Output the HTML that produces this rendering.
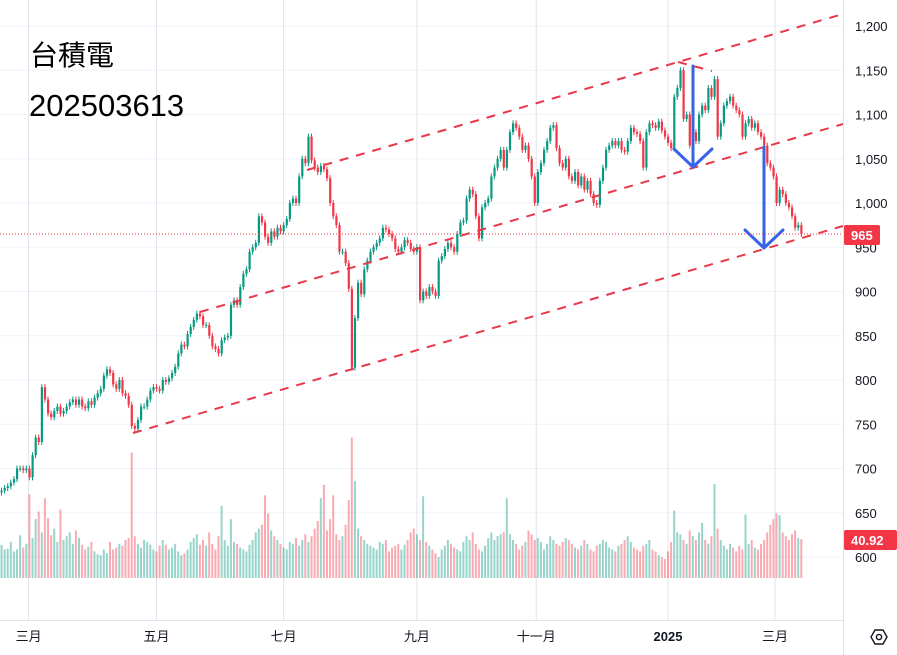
<!DOCTYPE html>
<html><head><meta charset="utf-8">
<style>
html,body{margin:0;padding:0;background:#fff;}
body{width:897px;height:655px;overflow:hidden;position:relative;font-family:"Liberation Sans","Noto Sans CJK TC",sans-serif;}
svg{position:absolute;left:0;top:0;}
</style></head>
<body>
<svg id="chart" width="897" height="655" xmlns="http://www.w3.org/2000/svg"></svg>
<script>
// ---- data ----
const yTicks = [1200,1150,1100,1050,1000,950,900,850,800,750,700,650,600];
const xTickLabels = ["三月","五月","七月","九月","十一月","2025","三月"];
const xTickIndex = [8.75,50,91,134,172.5,215,249.5];
const closes = [
675,678,680,684,688,700,700,698,700,690,
715,735,730,792,778,762,758,765,770,762,
765,770,775,778,772,778,770,768,776,772,
780,785,790,805,812,808,795,790,800,785,
782,772,748,745,755,770,770,778,788,792,
790,788,800,798,802,808,815,830,840,838,
852,860,868,875,872,862,862,850,838,835,
830,845,848,850,885,890,885,905,920,925,
945,950,955,985,978,962,955,968,962,972,
968,975,982,1000,1005,1000,1030,1050,1045,1075,
1048,1040,1035,1042,1038,1028,1000,985,975,945,
945,932,903,814,870,910,897,925,935,945,
950,955,960,972,970,965,960,948,945,950,
958,955,948,945,950,890,900,895,905,900,
895,935,940,948,955,950,945,965,978,980,
1005,1015,1010,985,960,995,1000,1005,1030,1040,
1050,1060,1040,1060,1080,1090,1085,1075,1060,1065,
1050,1030,1000,1035,1045,1060,1070,1085,1088,1062,
1045,1040,1050,1030,1025,1035,1020,1030,1015,1025,
1010,1000,998,1025,1040,1060,1065,1070,1065,1070,
1060,1058,1070,1085,1080,1078,1070,1040,1080,1090,
1088,1085,1092,1082,1075,1068,1062,1120,1130,1150,
1095,1100,1065,1080,1070,1100,1110,1105,1130,1120,
1140,1075,1090,1110,1115,1120,1110,1105,1100,1075,
1090,1095,1085,1090,1080,1075,1065,1045,1040,1030,
1000,1015,1010,1000,995,985,972,975,965];
const volumes = [
35,30,31,38,28,30,45,32,36,88,
42,62,70,48,84,63,45,52,38,72,
40,44,48,36,50,42,35,30,33,38,
28,25,24,30,26,38,30,32,36,34,
40,42,132,44,36,32,40,38,35,30,
28,34,40,35,30,32,36,28,24,26,
30,38,42,46,35,40,34,48,36,30,
44,76,40,34,62,38,36,32,30,28,
35,40,48,52,56,87,68,50,44,40,
36,32,30,38,36,42,34,40,46,38,
44,52,60,84,98,50,62,87,46,40,
44,56,82,148,102,52,44,40,36,34,
32,30,38,36,40,28,32,34,36,30,
35,40,48,52,46,40,86,38,34,30,
26,22,30,34,40,36,32,30,28,38,
44,40,48,36,30,28,34,42,48,40,
44,46,48,84,46,40,36,30,34,38,
50,46,40,42,38,30,36,44,40,36,
34,38,42,40,36,32,30,34,40,36,
30,28,34,36,40,38,32,30,28,34,
36,40,44,38,32,30,28,34,36,40,
30,28,24,22,20,28,38,71,48,46,
40,36,50,44,40,48,58,40,36,44,
99,52,40,34,30,36,32,28,34,30,
67,36,40,32,30,36,40,48,56,62,
68,66,48,44,40,46,50,42,40.92];
const lastPrice = 965;

// ---- scales ----
const NS='http://www.w3.org/2000/svg';
const svg=document.getElementById('chart');
function yP(v){return 26+(1200-v)*0.885;}
function xI(i){return 1.5+i*3.1;}
function yV(v){return 578-v*0.95;}
function mk(tag,attrs,parent){const e=document.createElementNS(NS,tag);for(const k in attrs)e.setAttribute(k,attrs[k]);(parent||svg).appendChild(e);return e;}

// grid
const grid=mk('g',{});


yTicks.forEach(v=>{mk('line',{x1:0,x2:843,y1:yP(v),y2:yP(v),stroke:'#f0f3fa','stroke-width':1},grid);});
xTickIndex.forEach(i=>{mk('line',{x1:xI(i),x2:xI(i),y1:0,y2:620,stroke:'#e0e3eb','stroke-width':1},grid);});

// volume
const vg=mk('g',{});


volumes.forEach((v,i)=>{
  const o=i>0?closes[i-1]:closes[0]-2;
  const up=closes[i]>=o;
  const r=mk('rect',{x:xI(i)-1,y:yV(v),width:2,height:578-yV(v),fill:up?'rgba(8,153,129,0.42)':'rgba(242,54,69,0.42)'},vg);
  
  
});

// candles
const cg=mk('g',{});


closes.forEach((c,i)=>{
  const o=i>0?closes[i-1]:c-2;
  const up=c>=o;
  const col=up?'#089981':'#f23645';
  const yt=yP(Math.max(o,c)), yb=yP(Math.min(o,c));
  const x=xI(i);
  const w=mk('line',{x1:x,x2:x,y1:yt-3,y2:yb+3,stroke:col,'stroke-width':1},cg);
  
  
  const b=mk('rect',{x:x-1,y:yt,width:2.2,height:Math.max(1,yb-yt),fill:col},cg);
  
  
});

// trend lines
const tg=mk('g',{fill:'none',stroke:'#e8394a','stroke-width':2,'stroke-dasharray':'9 8'});


[[307,170,843,14,'upper-channel-line'],[200,312,843,124,'middle-channel-line'],[133,433,843,226,'lower-channel-line'],[678,62,712,71,'peak-line']].forEach(l=>{
  const e=mk('line',{x1:l[0],y1:l[1],x2:l[2],y2:l[3]},tg);
  
  
});

// arrows
const ag=mk('g',{fill:'none',stroke:'#3563e9','stroke-width':3,'stroke-linecap':'round','stroke-linejoin':'round'});


mk('path',{d:'M693 66 L693 166 M674 149 L693 167 L712 149'},ag);
mk('path',{d:'M764 147 L764 247 M745 230 L764 248 L783 230'},ag);

// price line
const pl=mk('line',{x1:0,x2:843,y1:yP(lastPrice),y2:yP(lastPrice),stroke:'#f23645','stroke-width':1,'stroke-dasharray':'1 2'});



// axes
mk('line',{x1:843.5,x2:843.5,y1:0,y2:655,stroke:'#e0e3eb'});
mk('line',{x1:0,x2:843,y1:620.5,y2:620.5,stroke:'#e0e3eb'});
const yg=mk('g',{'font-size':13,fill:'#131722','font-family':'Liberation Sans, sans-serif'});


yTicks.forEach(v=>{
  const t=mk('text',{x:855,y:yP(v)+5},yg);
  t.textContent=v>=1000?(Math.floor(v/1000)+','+String(v%1000).padStart(3,'0')):String(v);
  
  
});
const xg=mk('g',{'font-size':13,fill:'#131722','font-family':'Liberation Sans, Noto Sans CJK TC, sans-serif','text-anchor':'middle'});


xTickLabels.forEach((s,k)=>{
  const t=mk('text',{x:xI(xTickIndex[k]),y:641,'font-weight':s==='2025'?'bold':'normal'},xg);
  t.textContent=s;
  
  
});

// labels
function tag(y,txt,w,name){
  const g=mk('g',{});
  
  
  mk('rect',{x:844,y:y-10,width:w,height:20,rx:2,fill:'#f23645'},g);
  const t=mk('text',{x:851,y:y+5,'font-size':13,'font-weight':'bold',fill:'#fff'},g);
  t.textContent=txt;
}
tag(yP(lastPrice)+1,String(lastPrice),36,'last-price-label');
tag(540,volumes[volumes.length-1].toFixed(2),53,'last-volume-label');
</script>
<div style="position:absolute;left:30px;top:38px;font-size:28px;color:#000;font-family:'Liberation Sans','Noto Sans CJK TC',sans-serif;line-height:36px;">台積電</div>
<div style="position:absolute;left:29px;top:88px;font-size:31px;color:#000;font-family:'Liberation Sans',sans-serif;line-height:36px;">202503613</div>
<div style="position:absolute;left:870px;top:628px;width:18px;height:18px;">
<svg width="18" height="18" viewBox="0 0 18 18"><path d="M5 2 L13 2 L17 9 L13 16 L5 16 L1 9 Z" fill="none" stroke="#131722" stroke-width="1.4"/><circle cx="9" cy="9" r="2.6" fill="none" stroke="#131722" stroke-width="1.4"/></svg>
</div>
</body></html>
